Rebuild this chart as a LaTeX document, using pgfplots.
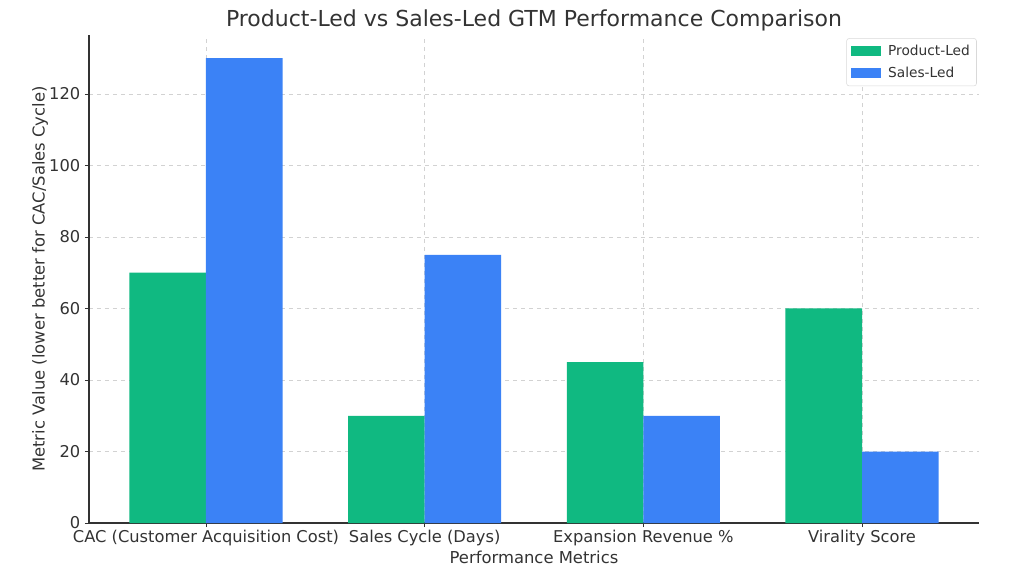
\documentclass[border=0pt]{standalone}
\usepackage{pgfplots}
\pgfplotsset{compat=1.18}
\usepackage{fontspec}
\setmainfont{DejaVu Sans}
\definecolor{pgreen}{HTML}{10B981}
\definecolor{sblue}{HTML}{3B82F6}
\definecolor{txt}{HTML}{333333}
\begin{document}
\begin{tikzpicture}
\begin{axis}[
  at={(0,0)}, anchor=south west,
  scale only axis, width=667.5pt, height=366pt,
  xmin=-0.535, xmax=3.535, ymin=0, ymax=136.5,
  axis x line*=bottom, axis y line*=left,
  axis line style={txt, line width=0.9pt},
  xtick={0,1,2,3},
  xticklabels={CAC (Customer Acquisition Cost), Sales Cycle (Days), Expansion Revenue \%, Virality Score},
  ytick={0,20,...,120},
  tick style={txt, line width=0.6pt},
  tick align=outside, major tick length=3pt,
  xticklabel style={font=\fontsize{12.2}{14}\selectfont, text=txt, yshift=1.5pt},
  yticklabel style={font=\fontsize{12.2}{14}\selectfont, text=txt},
  /pgf/number format/assume math mode=true,
  grid=major,
  major grid style={dashed, gray!35, line width=0.5pt},
  xlabel={Performance Metrics},
  ylabel={Metric Value (lower better for CAC/Sales Cycle)},
  label style={font=\fontsize{12.3}{14}\selectfont, text=txt},
  xlabel style={yshift=3pt},
  ylabel style={yshift=-6pt},
  title={Product-Led vs Sales-Led GTM Performance Comparison},
  title style={font=\fontsize{16.5}{19}\selectfont, text=txt, yshift=-6.5pt},
  ybar, bar width=0.35,
  legend style={at={(0.9975,0.9935)}, anchor=north east, draw=gray!30, rounded corners=2pt,
    font=\fontsize{10.3}{12}\selectfont, text=txt, row sep=3pt, inner sep=3pt},
  legend cell align=left,
  legend image code/.code={\fill[#1, sharp corners] (0cm,-0.13cm) rectangle (0.8cm,0.13cm); \path (0.92cm,0);},
]
\addplot[fill=pgreen, draw=none, bar shift=-0.175] coordinates {(0,70) (1,30) (2,45) (3,60)};
\addlegendentry{Product-Led}
\addplot[fill=sblue, draw=none, bar shift=0.175] coordinates {(0,130) (1,75) (2,30) (3,20)};
\addlegendentry{Sales-Led}
\end{axis}
\pgfresetboundingbox
\path[use as bounding box] (-66.75pt,-39.75pt) rectangle (701.25pt,392.25pt);
\end{tikzpicture}
\end{document}
